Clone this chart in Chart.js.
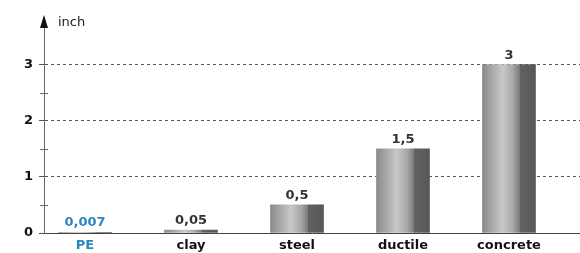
<!DOCTYPE html>
<html>
<head>
<meta charset="utf-8">
<script src="https://cdn.jsdelivr.net/npm/chart.js@4"></script>
<style>
  html, body { margin: 0; padding: 0; background: #fff; }
  #wrap { width: 580px; height: 253px; }
</style>
</head>
<body>
<div id="wrap"><canvas id="pipeChart" width="580" height="253"></canvas></div>
<script>
// data
const categories = ["PE", "clay", "steel", "ductile", "concrete"];
const values = [0.007, 0.05, 0.5, 1.5, 3];
const valueLabels = ["0,007", "0,05", "0,5", "1,5", "3"];
const yTicks = [0, 1, 2, 3];
const unitLabel = "inch";

const BLUE = "#2b86c0";
const BAR_W = 53;
const FONT = "'DejaVu Sans', Verdana, sans-serif";

// gradient for each "cylinder" bar
function barFill(c) {
    const chart = c.chart;
    const xs = chart.scales.x;
    if (!xs || c.dataIndex === undefined) return "#999";
    const cx = xs.getPixelForValue(c.dataIndex);
    if (!isFinite(cx)) return "#999";
    const g = chart.ctx.createLinearGradient(cx - BAR_W / 2, 0, cx + BAR_W / 2, 0);
    g.addColorStop(0, "#8a8a8a");
    g.addColorStop(0.38, "#c8c8c8");
    g.addColorStop(0.58, "#a6a6a6");
    g.addColorStop(0.7, "#7c7c7c");
    g.addColorStop(0.71, "#626262");
    g.addColorStop(1, "#575757");
    return g;
}

// arrow, unit and value labels
const extras = {
    id: "extras",
    afterDraw(chart) {
        const ctx = chart.ctx;
        const area = chart.chartArea;
        ctx.save();
        // arrow on top of the y axis
        ctx.fillStyle = "#111";
        ctx.beginPath();
        ctx.moveTo(area.left, area.top - 2);
        ctx.lineTo(area.left - 4, area.top + 11);
        ctx.lineTo(area.left + 4, area.top + 11);
        ctx.closePath();
        ctx.fill();

        ctx.font = "13px " + FONT;
        ctx.fillStyle = "#222";
        ctx.textAlign = "left";
        ctx.textBaseline = "middle";
        ctx.fillText(unitLabel, area.left + 14, area.top + 6);

        // minor ticks on the axis
        const ys = chart.scales.y;
        ctx.strokeStyle = "#666";
        ctx.lineWidth = 1;
        [0.5, 1.5, 2.5].forEach(v => {
            const y = Math.round(ys.getPixelForValue(v)) + 0.5;
            ctx.beginPath();
            ctx.moveTo(area.left - 4, y);
            ctx.lineTo(area.left + 4, y);
            ctx.stroke();
        });

        // values above bars
        const meta = chart.getDatasetMeta(0);
        ctx.font = "bold 13px " + FONT;
        ctx.textAlign = "center";
        ctx.textBaseline = "bottom";
        meta.data.forEach((bar, i) => {
            ctx.fillStyle = i === 0 ? BLUE : "#333";
            ctx.fillText(valueLabels[i], bar.x, bar.y - 3);
        });
        ctx.restore();
    }
};

new Chart(document.getElementById("pipeChart"), {
    type: "bar",
    data: {
        datasets: [{
            data: values.map((v, i) => ({ x: i, y: v })),
            backgroundColor: barFill,
            barThickness: BAR_W,
            borderWidth: 0
        }]
    },
    options: {
        responsive: false,
        animation: false,
        layout: { padding: { top: 17, left: 0, right: 0, bottom: 0 } },
        plugins: { legend: { display: false }, tooltip: { enabled: false } },
        scales: {
            x: {
                type: "linear",
                offset: false,
                min: -0.387,
                max: 4.67,
                afterFit: s => { s.height = 20; },
                grid: { display: false, drawTicks: false, offset: false },
                border: { color: "#444", width: 1 },
                ticks: {
                    stepSize: 1,
                    includeBounds: false,
                    autoSkip: false,
                    maxRotation: 0,
                    padding: 5,
                    font: { family: FONT, size: 13, weight: "bold" },
                    color: c => (c.tick && c.tick.value === 0 ? BLUE : "#111"),
                    callback: v => (Number.isInteger(v) && categories[v] !== undefined ? categories[v] : "")
                }
            },
            y: {
                min: 0,
                max: 3.85,
                afterFit: s => { s.width = 44; },
                afterBuildTicks: s => { s.ticks = yTicks.map(v => ({ value: v })); },
                grid: {
                    color: c => (c.tick && c.tick.value > 0 ? "#555" : "rgba(0,0,0,0)"),
                    tickColor: "#555",
                    tickLength: 5,
                    lineWidth: 1
                },
                border: { color: "#666", width: 1, dash: [3, 3] },
                ticks: {
                    padding: 6,
                    font: { family: FONT, size: 13, weight: "bold" },
                    color: "#111"
                }
            }
        }
    },
    plugins: [extras]
});
</script>
</body>
</html>
